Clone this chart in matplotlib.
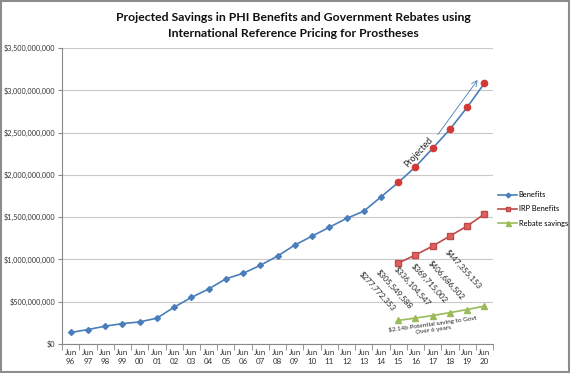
import numpy as np
import matplotlib.pyplot as plt
from matplotlib.patches import Rectangle

plt.rcParams['font.family'] = ['Lato', 'DejaVu Sans']

# Data
years = ['96', '97', '98', '99', '00', '01', '02', '03', '04', '05', '06', '07',
         '08', '09', '10', '11', '12', '13', '14', '15', '16', '17', '18', '19', '20']
tick_labels = ['Jun\n' + y for y in years]

benefits = [135e6, 170e6, 210e6, 240e6, 260e6, 305e6, 435e6, 550e6, 650e6, 770e6,
            835e6, 930e6, 1040e6, 1170e6, 1275e6, 1380e6, 1485e6, 1570e6, 1740e6,
            1910e6, 2095e6, 2315e6, 2540e6, 2800e6, 3085e6]
irp_years = years[19:]
irp_benefits = [957e6, 1052e6, 1158e6, 1277e6, 1395e6, 1537e6]
rebate_savings = [277772353, 305549588, 336104547, 369715002, 406686502, 447355153]

blue = '#4a7ebb'
red = '#be4b48'
green = '#9bbb59'

x = np.arange(len(years))
x_proj = x[19:]

fig = plt.figure(figsize=(5.7, 3.73), dpi=100)
ax = fig.add_axes([0.109, 0.078, 0.756, 0.793])

ax.plot(x, benefits, color=blue, lw=1.2, marker='D', ms=3, mfc=blue, mec=blue,
        label='Benefits', zorder=3)
# projected part marked in red
ax.plot(x_proj, benefits[19:], ls='none', marker='o', ms=4.5, mfc='#d13a36', mec='#d13a36', zorder=4)
ax.plot(x_proj, irp_benefits, color=red, lw=1.2, marker='s', ms=4, mfc='#e06060', mec=red,
        label='IRP Benefits', zorder=3)
ax.plot(x_proj, rebate_savings, color=green, lw=1.2, marker='^', ms=4.5, mfc=green, mec=green,
        label='Rebate savings', zorder=3)

for xi, v in zip(x_proj, rebate_savings):
    off = 11 if xi == x_proj[-1] else 6
    ax.annotate('${:,.0f}'.format(v), (xi, v), xytext=(-1, off), textcoords='offset points',
                rotation=-48, ha='right', va='bottom', fontsize=5.8, color='#222222')

ax.text(21.0, 205e6, '$2.14b Potential saving to Govt\nOver 6 years', rotation=8,
        ha='center', va='center', fontsize=4.6, color='#222222', linespacing=1.1)

ax.text(20.2, 2270e6, 'Projected', rotation=47, ha='center', va='center', fontsize=6.3,
        color='#222222')
ax.annotate('', xy=(23.7, 3150e6), xytext=(21.2, 2450e6),
            arrowprops=dict(arrowstyle='->', color=blue, lw=0.6))

ax.set_xlim(-0.5, len(years) - 0.5)
ax.set_ylim(0, 3.5e9)
ax.set_yticks(np.arange(0, 3.5e9 + 1, 5e8))
ax.yaxis.set_major_formatter(plt.FuncFormatter(lambda v, p: '${:,.0f}'.format(v)))
ax.set_xticks(x)
ax.set_xticklabels(tick_labels)
ax.set_xticks(np.arange(-0.5, len(years), 1), minor=True)
ax.tick_params(axis='x', which='major', length=0, labelsize=5.8, colors='#333333', pad=4)
ax.tick_params(axis='x', which='minor', length=4, color='#888888')
ax.tick_params(axis='y', length=3, color='#888888', labelsize=5.2, labelcolor='#333333', pad=2)
ax.grid(axis='y', color='#c8c8c8', lw=0.8)
ax.set_axisbelow(True)
for s in ['top', 'right']:
    ax.spines[s].set_visible(False)
ax.spines['left'].set_color('#888888')
ax.spines['bottom'].set_color('#888888')

fig.text(0.515, 0.953, 'Projected Savings in PHI Benefits and Government Rebates using',
         ha='center', va='center', fontsize=8.8, fontweight='bold', color='#111111')
fig.text(0.515, 0.91, 'International Reference Pricing for Prostheses',
         ha='center', va='center', fontsize=8.8, fontweight='bold', color='#111111')

leg = fig.legend(loc='upper left', bbox_to_anchor=(0.868, 0.495), frameon=False,
                 fontsize=5.4, handlelength=2.6, labelspacing=0.95, handletextpad=0.2,
                 borderaxespad=0, markerscale=0.8)

fig.patches.append(Rectangle((0.002, 0.003), 0.996, 0.994, transform=fig.transFigure,
                             fill=False, ec='#8c8c8c', lw=1.5))

fig.savefig('out.png', dpi=100)
